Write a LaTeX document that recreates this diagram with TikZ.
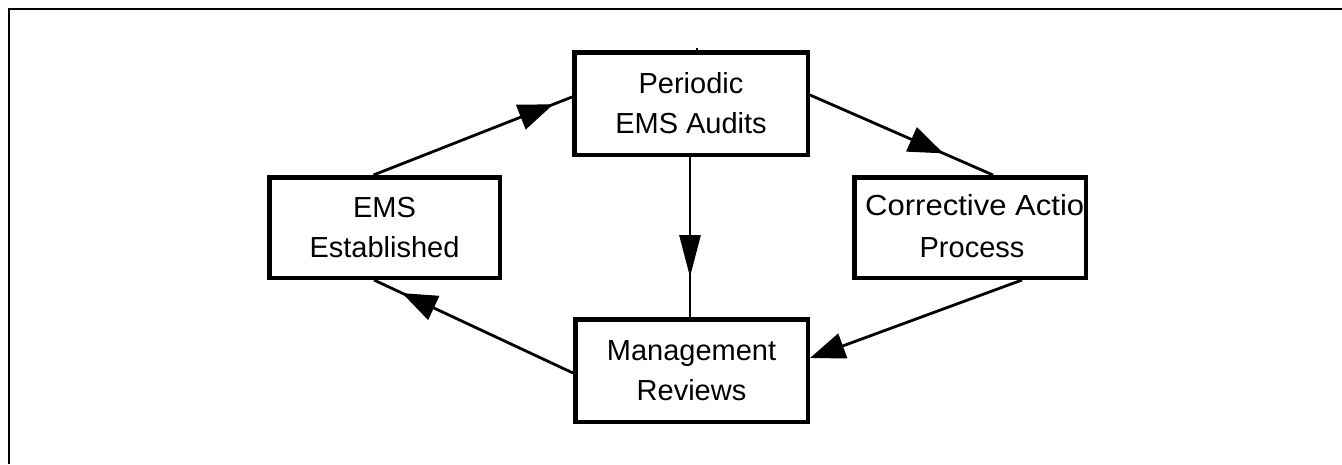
\documentclass[tikz,border=0pt]{standalone}
\usepackage{fontspec}
\setmainfont{Liberation Sans}
\usetikzlibrary{arrows.meta,decorations.markings,calc}
\tikzset{
  stagebox/.style={draw, line width=4.5pt, fill=white, align=center, inner sep=0pt,
    font=\fontsize{29}{40}\selectfont},
  boxlabel/.style={inner sep=0pt, font=\fontsize{29}{40}\selectfont},
  conn/.style={line width=2.8pt},
  headat/.style={postaction={decorate}, decoration={markings,
    mark=at position #1 with {\arrow{Triangle[length=35pt,width=26pt]}}}},
  longheadat/.style={postaction={decorate}, decoration={markings,
    mark=at position #1 with {\arrow{Triangle[length=42pt,width=21pt]}}}},
}
\begin{document}
\begin{tikzpicture}[x=1pt,y=-1pt]
  \useasboundingbox (0,0) rectangle (1342,464);
  % page frame (open at right and bottom)
  \draw[line width=1.5pt] (9,464) -- (9,9) -- (1342,9);

  % connectors (drawn first, boxes cover their ends)
  \coordinate (emsN) at (373.5,175);
  \coordinate (peaW) at (572,97);
  \coordinate (peaE) at (810,95);
  \coordinate (capN) at (993,175);
  \coordinate (capS) at (1022,280);
  \coordinate (mgrE) at (810,358);
  \coordinate (mgrW) at (573,373);
  \coordinate (emsS) at (374,280);
  \coordinate (peaS) at (690,157);
  \coordinate (mgrN) at (690,317);
  \coordinate (peaT) at (697,50);

  \draw[conn, headat=-20pt] (emsN) -- (peaW);
  \draw[conn, headat=-54pt] (peaE) -- (capN);
  \draw[conn, -{Triangle[length=35pt,width=26pt]}] (capS) -- (mgrE);
  \draw[conn, headat=-31pt] (mgrW) -- (emsS);
  \draw[conn, longheadat=-40pt] (peaS) -- (mgrN);
  \draw[line width=2pt] (peaT) -- ++(0,-2.5);

  % process boxes
  \node[stagebox, minimum width=233.5pt, minimum height=102.5pt] (pea) at (691,103.5)
    {Periodic\\EMS Audits};
  \node[stagebox, minimum width=232.5pt, minimum height=102.5pt] (mgr) at (691.5,370.5)
    {Management\\Reviews};
  \node[stagebox, minimum width=230.5pt, minimum height=100.5pt] (ems) at (384.5,227.5)
    {EMS\\Established};
  \node[stagebox, minimum width=231.5pt, minimum height=100.5pt] (cap) at (970,227.5) {};
  \begin{scope}
    \clip ($(cap.south west)+(4.5,-4.5)$) rectangle ($(cap.north east)+(-4.5,4.5)$);
    \node[boxlabel, anchor=base west] (capa) at (865,215) {\scalebox{1.07}[1]{Corrective Action}};
  \end{scope}
  \node[boxlabel, anchor=base] (capb) at (972,257) {Process};
\end{tikzpicture}
\end{document}
